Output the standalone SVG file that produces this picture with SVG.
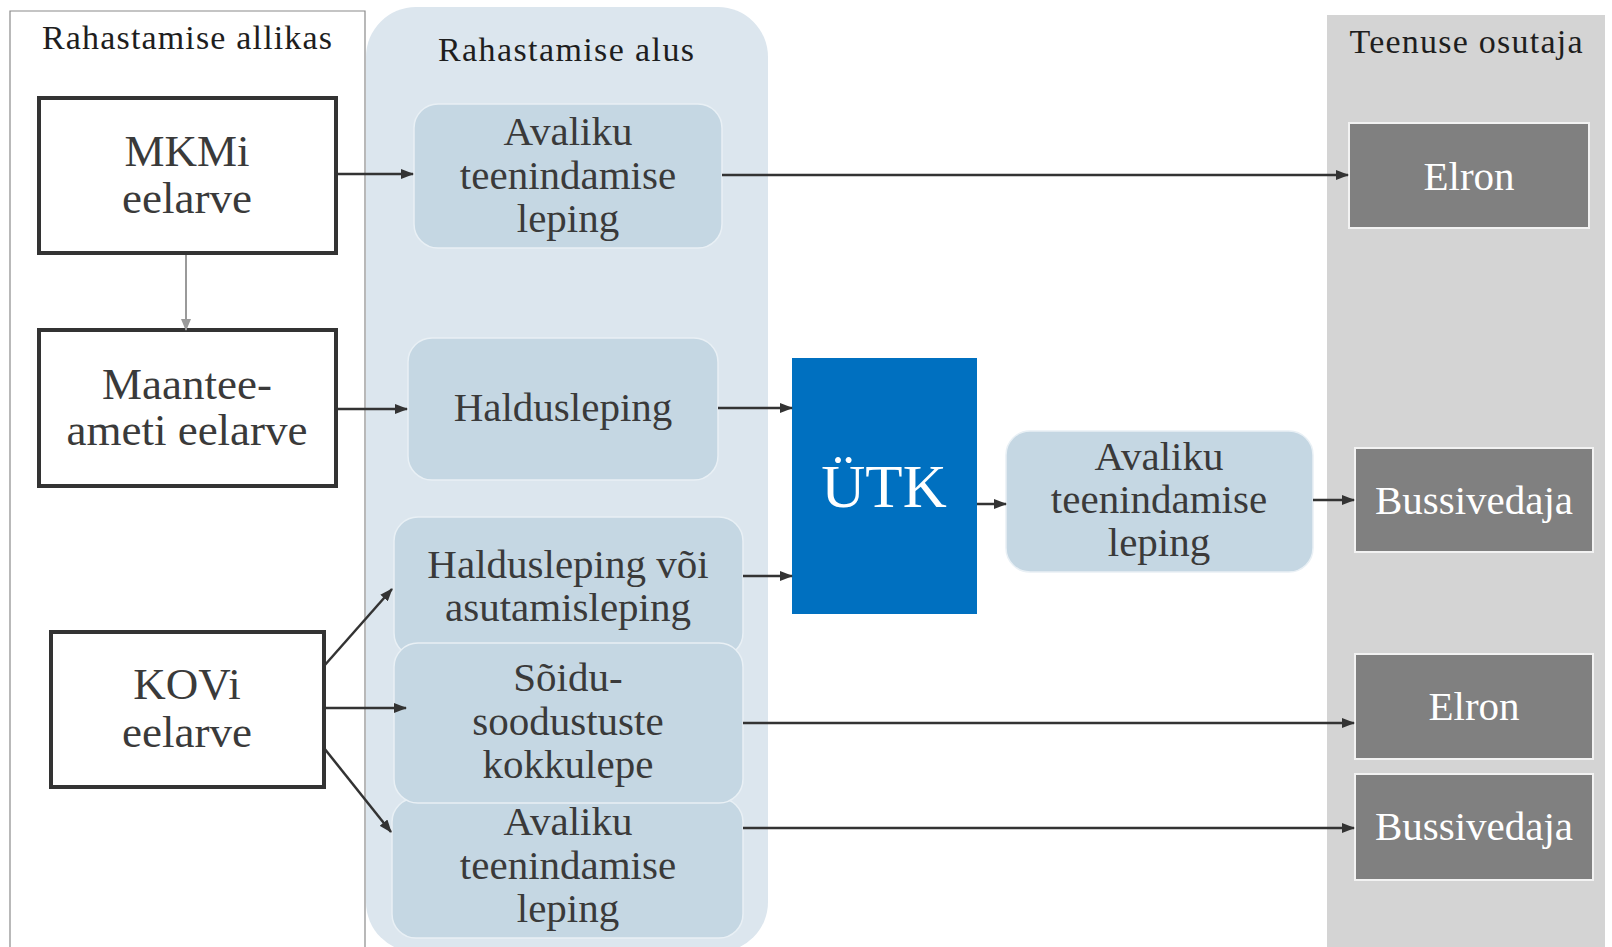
<svg xmlns="http://www.w3.org/2000/svg" width="1612" height="947" viewBox="0 0 1612 947">
<defs>
<marker id="ah" markerUnits="userSpaceOnUse" markerWidth="13" markerHeight="10" refX="12" refY="5" orient="auto"><path d="M0,0 L13,5 L0,10 z" fill="#333"/></marker>
<marker id="ahg" markerUnits="userSpaceOnUse" markerWidth="12" markerHeight="10" refX="11" refY="5" orient="auto"><path d="M0,0 L12,5 L0,10 z" fill="#9a9a9a"/></marker>
<style>
text{font-family:"Liberation Serif","Times New Roman",serif;text-anchor:middle}
.title{font-size:34px;fill:#1e1e1e}
.src{fill:#fff;stroke:#333;stroke-width:4}
.srct{font-size:45px;fill:#3a3a3a}
.mid{fill:#c5d7e3;stroke:#e9f0f5;stroke-width:1.5}
.midt{font-size:41px;fill:#3a3a3a}
.prov{fill:#808080;stroke:#f2f2f2;stroke-width:2}
.provt{font-size:41px;fill:#fff}
.c{stroke:#333;stroke-width:2.5;fill:none;marker-end:url(#ah)}
</style>
</defs>
<rect width="1612" height="947" fill="#fff"/>
<g id="panel-left">
<path d="M10,947 V11 H365 V947" fill="#fff" stroke="#8a8a8a" stroke-width="1.2"/>
<text class="title" x="187" y="49" textLength="290">Rahastamise  allikas</text>
</g>
<g id="panel-mid">
<rect x="366" y="7" width="402" height="945" rx="50" fill="#dce6ee"/>
<text class="title" x="566" y="61" textLength="256">Rahastamise  alus</text>
</g>
<g id="panel-right">
<rect x="1327" y="15" width="278" height="940" fill="#d4d4d4"/>
<text class="title" x="1466" y="53" textLength="233">Teenuse  osutaja</text>
</g>
<g id="mkmi"><rect class="src" x="39" y="98" width="297" height="155"/>
<text class="srct" x="187" y="166">MKMi</text><text class="srct" x="187" y="213">eelarve</text></g>
<g id="maantee"><rect class="src" x="39" y="330" width="297" height="156"/>
<text class="srct" x="187" y="399">Maantee-</text><text class="srct" x="187" y="445">ameti eelarve</text></g>
<g id="kovi"><rect class="src" x="51" y="632" width="273" height="155"/>
<text class="srct" x="187" y="699">KOVi</text><text class="srct" x="187" y="747">eelarve</text></g>
<g id="atl1"><rect class="mid" x="414" y="104" width="308" height="144" rx="24"/>
<text class="midt" x="568" y="145">Avaliku</text><text class="midt" x="568" y="189">teenindamise</text><text class="midt" x="568" y="232">leping</text></g>
<g id="haldus"><rect class="mid" x="408" y="338" width="310" height="142" rx="24"/>
<text class="midt" x="563" y="421">Haldusleping</text></g>
<g id="haldus-asut"><rect class="mid" x="394" y="517" width="349" height="140" rx="24"/>
<text class="midt" x="568" y="578">Haldusleping  või</text><text class="midt" x="568" y="621">asutamisleping</text></g>
<g id="atl2"><rect class="mid" x="392" y="798" width="351" height="140" rx="24"/>
<text class="midt" x="568" y="835">Avaliku</text><text class="midt" x="568" y="879">teenindamise</text><text class="midt" x="568" y="922">leping</text></g>
<g id="soidu"><rect class="mid" x="394" y="643" width="349" height="160" rx="24"/>
<text class="midt" x="568" y="691">Sõidu-</text><text class="midt" x="568" y="735">soodustuste</text><text class="midt" x="568" y="778">kokkulepe</text></g>
<g id="utk"><rect x="792" y="358" width="185" height="256" fill="#0070c0"/>
<text x="884" y="507" style="font-size:61px;fill:#fff">ÜTK</text></g>
<g id="atl3"><rect class="mid" x="1006" y="431" width="307" height="141" rx="24"/>
<text class="midt" x="1159" y="470">Avaliku</text><text class="midt" x="1159" y="513">teenindamise</text><text class="midt" x="1159" y="556">leping</text></g>
<g id="elron1"><rect class="prov" x="1349" y="123" width="240" height="105"/><text class="provt" x="1469" y="190">Elron</text></g>
<g id="buss1"><rect class="prov" x="1355" y="448" width="238" height="104"/><text class="provt" x="1474" y="514">Bussivedaja</text></g>
<g id="elron2"><rect class="prov" x="1355" y="654" width="238" height="105"/><text class="provt" x="1474" y="720">Elron</text></g>
<g id="buss2"><rect class="prov" x="1355" y="774" width="238" height="106"/><text class="provt" x="1474" y="840">Bussivedaja</text></g>
<g id="connectors">
<line x1="186" y1="255" x2="186" y2="330" stroke="#9a9a9a" stroke-width="2" marker-end="url(#ahg)"/>
<line class="c" x1="338" y1="174" x2="413" y2="174"/>
<line class="c" x1="722" y1="175" x2="1348" y2="175"/>
<line class="c" x1="338" y1="409" x2="407" y2="409"/>
<line class="c" x1="718" y1="408" x2="792" y2="408"/>
<line class="c" x1="743" y1="576" x2="792" y2="576"/>
<line class="c" x1="977" y1="504" x2="1006" y2="504"/>
<line class="c" x1="1313" y1="500" x2="1354" y2="500"/>
<line class="c" x1="324" y1="666" x2="392" y2="589"/>
<line class="c" x1="325" y1="708" x2="406" y2="708"/>
<line class="c" x1="324" y1="748" x2="391" y2="832"/>
<line class="c" x1="743" y1="723" x2="1354" y2="723"/>
<line class="c" x1="743" y1="828" x2="1354" y2="828"/>
</g>
</svg>
